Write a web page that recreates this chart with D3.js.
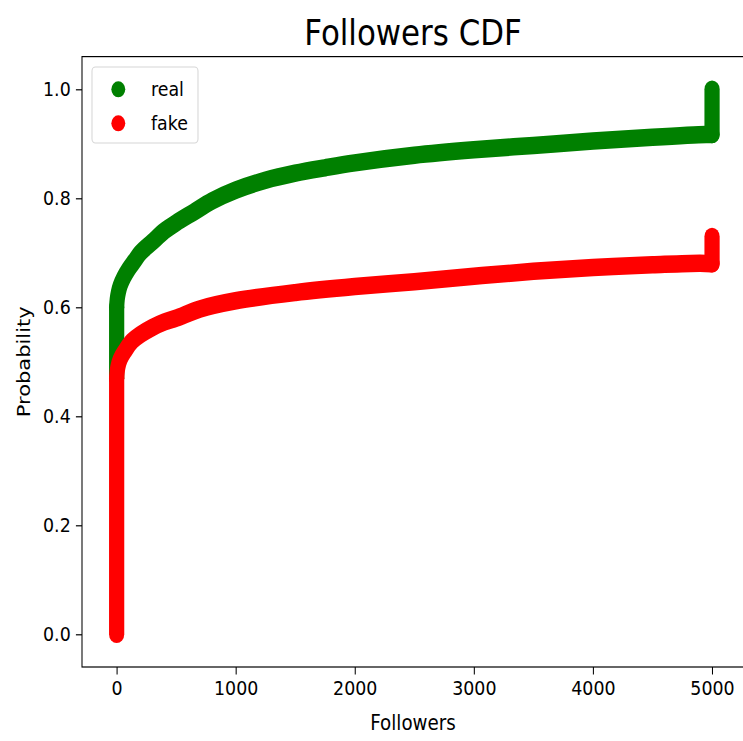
<!DOCTYPE html>
<html>
<head>
<meta charset="utf-8">
<script src="https://cdn.jsdelivr.net/npm/d3@7"></script>
<style>
  html, body { margin: 0; padding: 0; background: #fff; }
  svg { display: block; }
  text { font-family: "DejaVu Sans", sans-serif; fill: #000; }
</style>
</head>
<body>
<svg id="chart" width="743" height="741"></svg>
<script>
// ---- data ----
const realFollowers = [0, 0, 5, 15, 30, 60, 100, 150, 200, 300, 400, 500, 650, 800, 1000, 1250, 1500, 1750, 2000, 2500, 3000, 3500, 4000, 4500, 4950, 5000, 5000];
const realProb      = [0.47, 0.60, 0.615, 0.628, 0.64, 0.655, 0.67, 0.685, 0.70, 0.72, 0.74, 0.755, 0.775, 0.795, 0.815, 0.833, 0.846, 0.856, 0.865, 0.879, 0.889, 0.897, 0.905, 0.912, 0.917, 0.917, 1.0];
const fakeFollowers = [0, 0, 10, 30, 70, 130, 200, 300, 400, 500, 700, 1000, 1500, 2000, 2500, 3000, 3500, 4000, 4500, 4900, 5000, 5000];
const fakeProb      = [0.0, 0.47, 0.49, 0.505, 0.52, 0.538, 0.55, 0.563, 0.573, 0.58, 0.597, 0.612, 0.627, 0.638, 0.647, 0.657, 0.666, 0.673, 0.678, 0.681, 0.68, 0.73];
const xTicks = [0, 1000, 2000, 3000, 4000, 5000];
const yTicks = [0.0, 0.2, 0.4, 0.6, 0.8, 1.0];
const seriesNames = ["real", "fake"];
const seriesColors = ["green", "red"];

// ---- layout (pixel coords), with horizontal squeeze ----
const S = 0.87;              // horizontal squeeze factor of the picture
const svg = d3.select("#chart");
const g = svg.append("g").attr("transform", `scale(${S},1)`);
const px = v => v / S;       // pixel x -> design x

const mLeft = 82, mRight = 746.7, mTop = 56.6, mBottom = 667;
const x = d3.scaleLinear().domain([-291, 5291]).range([px(mLeft), px(mRight)]);
const y = d3.scaleLinear().domain([-0.06, 1.06]).range([mBottom, mTop]);

// clip to axes
g.append("clipPath").attr("id", "clip").append("rect")
  .attr("x", px(mLeft)).attr("y", mTop).attr("width", px(mRight) - px(mLeft)).attr("height", mBottom - mTop);

const smooth = d3.line().x(d => x(d[0])).y(d => y(d[1])).curve(d3.curveCatmullRom.alpha(0.5));
const straight = d3.line().x(d => x(d[0])).y(d => y(d[1]));

// split a series into vertical runs (same x) and curved runs
function segments(pts) {
  const segs = [];
  let run = [pts[0]];
  for (let i = 1; i < pts.length; i++) {
    const vertical = pts[i][0] === pts[i - 1][0];
    if (vertical) {
      if (run.length > 1) segs.push({ pts: run, vertical: false });
      segs.push({ pts: [pts[i - 1], pts[i]], vertical: true });
      run = [pts[i]];
    } else {
      run.push(pts[i]);
    }
  }
  if (run.length > 1) segs.push({ pts: run, vertical: false });
  return segs;
}

const series = [
  d3.zip(realFollowers, realProb),
  d3.zip(fakeFollowers, fakeProb)
];
const plot = g.append("g").attr("clip-path", "url(#clip)");
series.forEach((pts, i) => {
  const sg = plot.append("g");
  segments(pts).forEach(seg => {
    sg.append("path").attr("d", (seg.vertical ? straight : smooth)(seg.pts))
      .attr("fill", "none").attr("stroke", seriesColors[i])
      .attr("stroke-width", 17.5).attr("stroke-linecap", "round").attr("stroke-linejoin", "round");
  });
});

// axes frame
g.append("rect").attr("x", px(mLeft)).attr("y", mTop).attr("width", px(mRight) - px(mLeft)).attr("height", mBottom - mTop)
  .attr("fill", "none").attr("stroke", "#000").attr("stroke-width", 1.2);

// x axis
const xAxis = d3.axisBottom(x).tickValues(xTicks).tickSize(7.5).tickPadding(6).tickFormat(d3.format("d"));
const xg = g.append("g").attr("transform", `translate(0,${mBottom})`).call(xAxis);
xg.select(".domain").remove();
xg.selectAll("line").attr("stroke", "#000").attr("stroke-width", 1.2);
xg.selectAll("text").attr("font-size", 20).attr("font-family", "DejaVu Sans");

// y axis
const yAxis = d3.axisLeft(y).tickValues(yTicks).tickSize(7).tickPadding(6).tickFormat(d3.format(".1f"));
const yg = g.append("g").attr("transform", `translate(${px(mLeft)},0)`).call(yAxis);
yg.select(".domain").remove();
yg.selectAll("line").attr("stroke", "#000").attr("stroke-width", 1.2);
yg.selectAll("text").attr("font-size", 20).attr("font-family", "DejaVu Sans");

// title
g.append("text").attr("x", px(413)).attr("y", 45).attr("text-anchor", "middle")
  .attr("font-size", 35.5).text("Followers CDF");

// axis labels
g.append("text").attr("x", px(413)).attr("y", 730).attr("text-anchor", "middle")
  .attr("font-size", 21).text("Followers");
g.append("text").attr("transform", `translate(${px(30)},${(mTop + mBottom) / 2}) rotate(-90)`)
  .attr("text-anchor", "middle").attr("font-size", 21).text("Probability");

// legend
const lg = g.append("g");
lg.append("rect").attr("x", px(92)).attr("y", 67).attr("width", px(198) - px(92)).attr("height", 76)
  .attr("rx", 4).attr("fill", "#fff").attr("fill-opacity", 0.8).attr("stroke", "#d6d6d6").attr("stroke-width", 1.2);
seriesNames.forEach((name, i) => {
  const cy = 89.3 + i * 34;
  lg.append("circle").attr("cx", px(118.3)).attr("cy", cy).attr("r", 8).attr("fill", seriesColors[i]);
  lg.append("text").attr("x", px(151)).attr("y", cy + 7).attr("font-size", 20).text(name);
});
</script>
</body>
</html>
